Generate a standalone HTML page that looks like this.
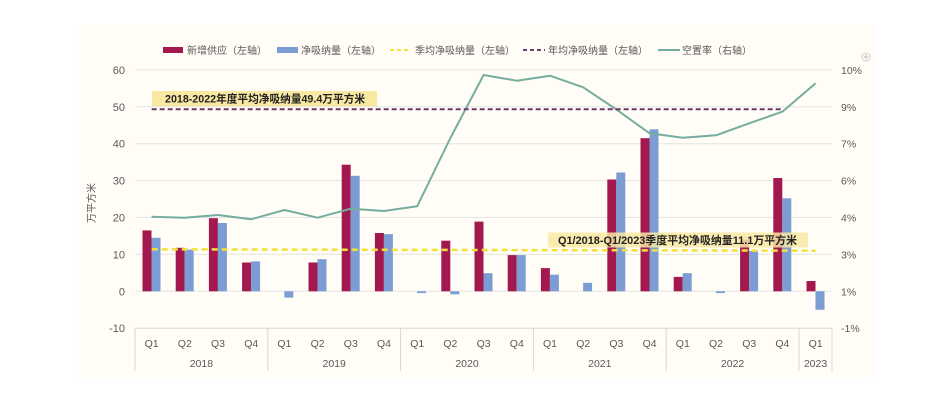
<!DOCTYPE html>
<html><head><meta charset="utf-8"><style>
html,body{margin:0;padding:0;background:#fff;}
svg{display:block;}
text{font-family:"Liberation Sans","Noto Sans CJK SC",sans-serif;}
</style></head><body>
<svg width="932" height="419" viewBox="0 0 932 419" xmlns="http://www.w3.org/2000/svg">
<rect x="0" y="0" width="932" height="419" fill="#ffffff"/>
<rect x="78" y="25" width="797" height="353" fill="#fffdf6"/>

<!-- gridlines -->
<g stroke="#e4e4e4" stroke-width="1">
<line x1="135" y1="69.9" x2="832" y2="69.9"/>
<line x1="135" y1="106.8" x2="832" y2="106.8"/>
<line x1="135" y1="143.7" x2="832" y2="143.7"/>
<line x1="135" y1="180.6" x2="832" y2="180.6"/>
<line x1="135" y1="217.5" x2="832" y2="217.5"/>
<line x1="135" y1="254.4" x2="832" y2="254.4"/>
<line x1="135" y1="291.3" x2="832" y2="291.3"/>
</g>
<!-- bottom axis box -->
<g stroke="#d6d6d6" stroke-width="1">
<line x1="135" y1="328.2" x2="832" y2="328.2"/>
<line x1="135" y1="328.2" x2="135" y2="371"/>
<line x1="267.8" y1="328.2" x2="267.8" y2="371"/>
<line x1="400.6" y1="328.2" x2="400.6" y2="371"/>
<line x1="533.4" y1="328.2" x2="533.4" y2="371"/>
<line x1="666.2" y1="328.2" x2="666.2" y2="371"/>
<line x1="799" y1="328.2" x2="799" y2="371"/>
<line x1="832" y1="328.2" x2="832" y2="371"/>
</g>

<!-- left axis labels -->
<g font-size="11" fill="#595959" text-anchor="end">
<text x="125" y="73.9">60</text>
<text x="125" y="110.8">50</text>
<text x="125" y="147.7">40</text>
<text x="125" y="184.6">30</text>
<text x="125" y="221.5">20</text>
<text x="125" y="258.4">10</text>
<text x="125" y="295.3">0</text>
<text x="125" y="332.2">-10</text>
</g>
<text x="0" y="0" font-size="10" fill="#595959" text-anchor="middle" transform="translate(95,203) rotate(-90)">万平方米</text>

<!-- right axis labels -->
<g font-size="10.5" fill="#595959">
<text x="841" y="73.9">10%</text>
<text x="841" y="110.8">9%</text>
<text x="841" y="147.7">7%</text>
<text x="841" y="184.6">6%</text>
<text x="841" y="221.5">4%</text>
<text x="841" y="258.4">3%</text>
<text x="841" y="295.3">1%</text>
<text x="841" y="332.2">-1%</text>
</g>
<circle cx="866" cy="57" r="4" fill="none" stroke="#c4c4c4" stroke-width="0.8"/>
<line x1="863.8" y1="57" x2="868.2" y2="57" stroke="#b0b0b0" stroke-width="0.8"/>
<line x1="866" y1="54.8" x2="866" y2="59.2" stroke="#b0b0b0" stroke-width="0.8"/>

<!-- category labels -->
<g font-size="10.5" fill="#595959" text-anchor="middle">
<text x="151.6" y="347">Q1</text><text x="184.8" y="347">Q2</text><text x="218.0" y="347">Q3</text><text x="251.2" y="347">Q4</text>
<text x="284.4" y="347">Q1</text><text x="317.6" y="347">Q2</text><text x="350.8" y="347">Q3</text><text x="384.0" y="347">Q4</text>
<text x="417.2" y="347">Q1</text><text x="450.4" y="347">Q2</text><text x="483.6" y="347">Q3</text><text x="516.8" y="347">Q4</text>
<text x="550.0" y="347">Q1</text><text x="583.2" y="347">Q2</text><text x="616.4" y="347">Q3</text><text x="649.6" y="347">Q4</text>
<text x="682.8" y="347">Q1</text><text x="716.0" y="347">Q2</text><text x="749.2" y="347">Q3</text><text x="782.4" y="347">Q4</text>
<text x="815.6" y="347">Q1</text>
</g>
<g font-size="10.5" fill="#595959" text-anchor="middle">
<text x="201.4" y="367">2018</text>
<text x="334.2" y="367">2019</text>
<text x="467.0" y="367">2020</text>
<text x="599.8" y="367">2021</text>
<text x="732.6" y="367">2022</text>
<text x="815.5" y="367">2023</text>
</g>

<!-- bars: new supply -->
<g fill="#a3184f">
<rect x="142.5" y="230.4" width="9" height="60.9"/>
<rect x="175.7" y="247.8" width="9" height="43.5"/>
<rect x="208.9" y="218.2" width="9" height="73.1"/>
<rect x="242.1" y="262.5" width="9" height="28.8"/>
<rect x="308.5" y="262.5" width="9" height="28.8"/>
<rect x="341.7" y="164.7" width="9" height="126.6"/>
<rect x="374.9" y="233.0" width="9" height="58.3"/>
<rect x="441.3" y="240.7" width="9" height="50.6"/>
<rect x="474.5" y="221.6" width="9" height="69.7"/>
<rect x="507.7" y="255.1" width="9" height="36.2"/>
<rect x="540.9" y="268.1" width="9" height="23.2"/>
<rect x="607.3" y="179.5" width="9" height="111.8"/>
<rect x="640.5" y="138.2" width="9" height="153.1"/>
<rect x="673.7" y="276.9" width="9" height="14.4"/>
<rect x="740.1" y="239.6" width="9" height="51.7"/>
<rect x="773.3" y="178.0" width="9" height="113.3"/>
<rect x="806.5" y="281.0" width="9" height="10.3"/>
</g>
<!-- bars: net absorption -->
<g fill="#7b9dd3">
<rect x="151.5" y="237.8" width="9" height="53.5"/>
<rect x="184.7" y="249.6" width="9" height="41.7"/>
<rect x="217.9" y="223.0" width="9" height="68.3"/>
<rect x="251.1" y="261.4" width="9" height="29.9"/>
<rect x="284.3" y="291.3" width="9" height="6.3"/>
<rect x="317.5" y="259.2" width="9" height="32.1"/>
<rect x="350.7" y="175.8" width="9" height="115.5"/>
<rect x="383.9" y="234.1" width="9" height="57.2"/>
<rect x="417.1" y="291.3" width="9" height="1.8"/>
<rect x="450.3" y="291.3" width="9" height="3"/>
<rect x="483.5" y="273.2" width="9" height="18.1"/>
<rect x="516.7" y="255.1" width="9" height="36.2"/>
<rect x="549.9" y="274.7" width="9" height="16.6"/>
<rect x="583.1" y="282.8" width="9" height="8.5"/>
<rect x="616.3" y="172.5" width="9" height="118.8"/>
<rect x="649.5" y="129.3" width="9" height="162.0"/>
<rect x="682.7" y="273.2" width="9" height="18.1"/>
<rect x="715.9" y="291.3" width="9" height="1.8"/>
<rect x="749.1" y="251.1" width="9" height="40.2"/>
<rect x="782.3" y="198.3" width="9" height="93.0"/>
<rect x="815.5" y="291.3" width="9" height="18.5"/>
</g>

<!-- vacancy line -->
<polyline fill="none" stroke="#75ad9e" stroke-width="2" stroke-linejoin="round"
points="151.6,216.7 184.8,217.7 218.0,215 251.2,219.3 284.4,210 317.6,217.7 350.8,208.7 384.0,211 417.2,206.3 450.4,138 483.6,75 516.8,80.7 550.0,75.7 583.2,87.3 616.4,109.5 649.6,133.3 682.8,137.7 716.0,135.3 749.2,123.3 782.4,111.7 815.6,83.3"/>

<!-- yearly average dashed -->
<line x1="151.7" y1="109.3" x2="782" y2="109.3" stroke="#6c3c6a" stroke-width="2" stroke-dasharray="5,3"/>

<!-- quarterly average dashed -->
<line x1="151.7" y1="249.3" x2="815.6" y2="250.7" stroke="#f1e23b" stroke-width="2.5" stroke-dasharray="6,4"/>

<!-- annotation 1 -->
<rect x="152" y="91" width="225" height="15.5" fill="#f9e8a2"/>
<text x="165" y="102.6" font-size="11" font-weight="bold" fill="#222" textLength="200" lengthAdjust="spacingAndGlyphs">2018-2022年度平均净吸纳量49.4万平方米</text>

<!-- annotation 2 -->
<rect x="548" y="232.5" width="260" height="15" fill="#f9e8a2" fill-opacity="0.85"/>
<text x="558" y="244" font-size="11" font-weight="bold" fill="#222" textLength="239" lengthAdjust="spacingAndGlyphs">Q1/2018-Q1/2023季度平均净吸纳量11.1万平方米</text>

<!-- legend -->
<g font-size="10" fill="#595959">
<rect x="163" y="47" width="20" height="6" fill="#a3184f"/>
<text x="187" y="54">新增供应（左轴）</text>
<rect x="277" y="47" width="21" height="6" fill="#7b9dd3"/>
<text x="301" y="54">净吸纳量（左轴）</text>
<line x1="390" y1="50" x2="411" y2="50" stroke="#f1e23b" stroke-width="2" stroke-dasharray="4,3"/>
<text x="415" y="54">季均净吸纳量（左轴）</text>
<line x1="523" y1="50" x2="545" y2="50" stroke="#6c3c6a" stroke-width="2" stroke-dasharray="4,3"/>
<text x="548" y="54">年均净吸纳量（左轴）</text>
<line x1="658" y1="50" x2="680" y2="50" stroke="#75ad9e" stroke-width="2"/>
<text x="682" y="54">空置率（右轴）</text>
</g>
</svg>
</body></html>
